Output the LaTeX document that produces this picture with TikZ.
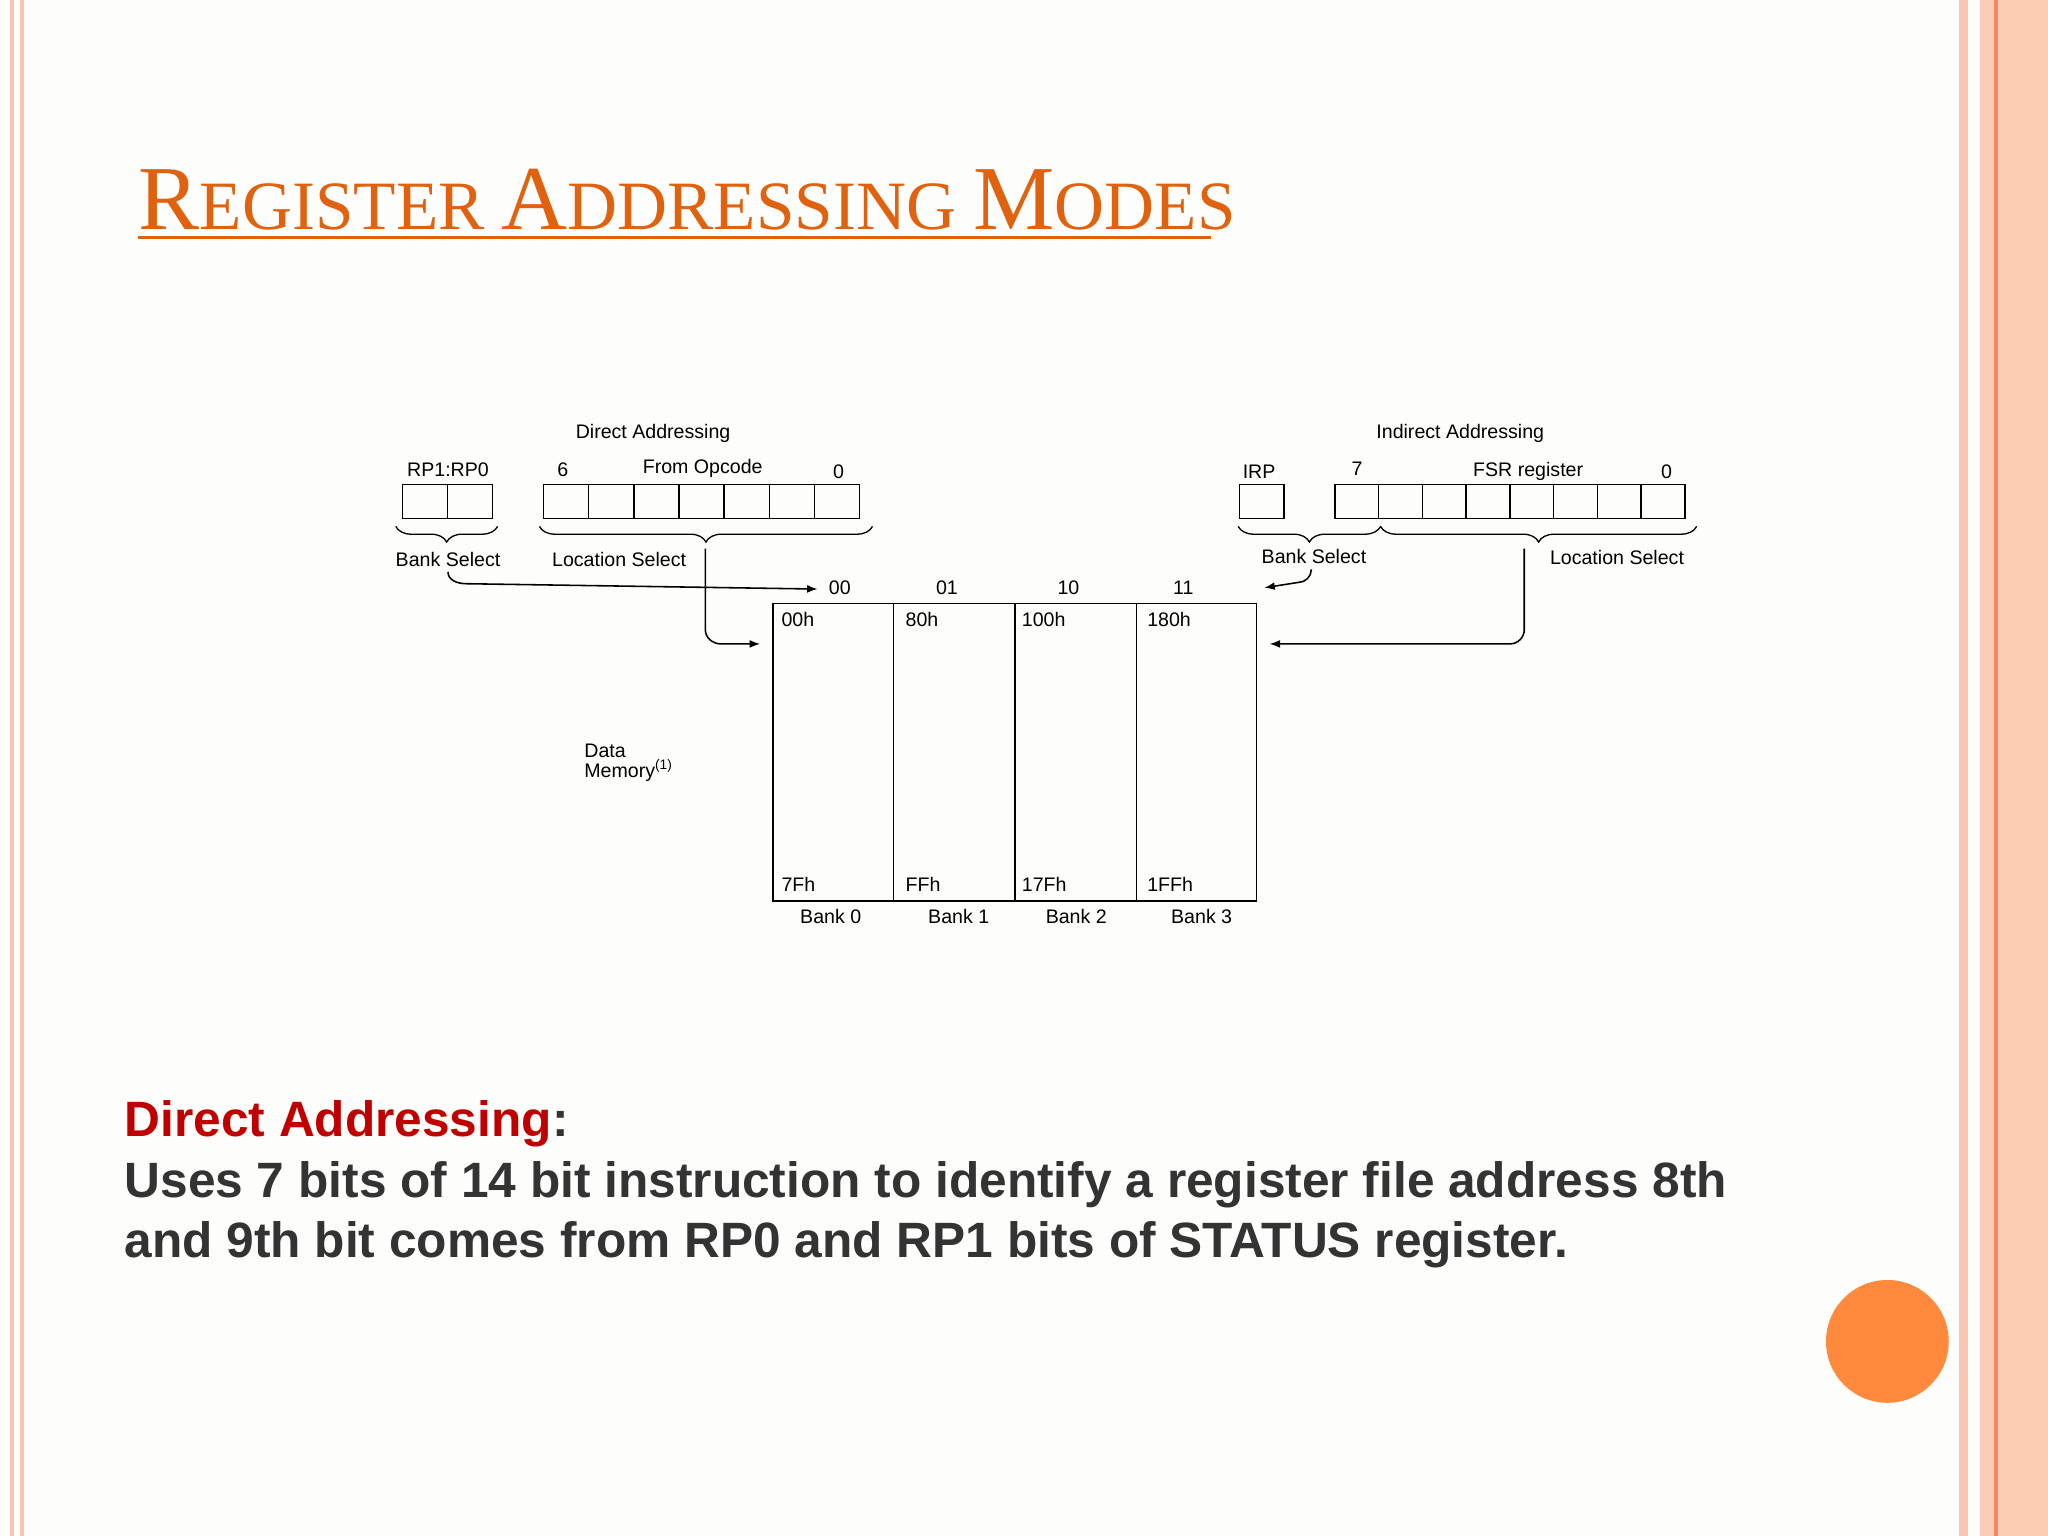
\documentclass[tikz,border=0pt]{standalone}
\usepackage{fontspec}
\setmainfont{Liberation Sans}
\newfontfamily\titlefont{Liberation Serif}
\usetikzlibrary{decorations.pathreplacing,arrows.meta}
\definecolor{bgc}{HTML}{FDFDFB}
\definecolor{pinkl}{HTML}{F9C4B2}
\definecolor{peach}{HTML}{FBCBB4}
\definecolor{orgline}{HTML}{F08A64}
\definecolor{titlec}{HTML}{E0620E}
\definecolor{redc}{HTML}{C00000}
\definecolor{darkc}{HTML}{333333}
\definecolor{circc}{HTML}{FF8A3D}
\begin{document}
\begin{tikzpicture}[x=0.5pt,y=-0.5pt,
  dtext/.style={font=\fontsize{7.5pt}{8pt}\selectfont,inner sep=0pt},
  cellbox/.style={draw,line width=0.6pt},
  brc/.style={decorate,decoration={brace,mirror,amplitude=6,raise=0pt},line width=0.5pt},
  conn/.style={line width=0.6pt,-{Latex[length=4pt,width=3pt]}},
  btext/.style={font=\fontsize{19pt}{23pt}\selectfont\bfseries,color=darkc,anchor=base west,inner sep=0pt}]
\fill[bgc] (0,0) rectangle (1568,1176);
\useasboundingbox (0,0) rectangle (1568,1176);
% borders
\fill[pinkl] (8,0) rectangle (11,1176);
\fill[pinkl] (15,0) rectangle (18,1176);
\fill[pinkl] (1500,0) rectangle (1507,1176);
\fill[peach] (1516,0) rectangle (1568,1176);
\fill[orgline] (1527,0) rectangle (1530,1176);
% title
\node[anchor=base west,inner sep=0pt,text=titlec] (title) at (106,176)
 {\titlefont\fontsize{35pt}{40pt}\selectfont R\fontsize{26.5pt}{30pt}\selectfont EGISTER \fontsize{35pt}{40pt}\selectfont A\fontsize{26.5pt}{30pt}\selectfont DDRESSING \fontsize{35pt}{40pt}\selectfont M\fontsize{26.5pt}{30pt}\selectfont ODES};
\draw[titlec,line width=1.2pt] (106,182) -- (927,182);
% direct registers
\node[dtext] (dirA) at (500,332) {Direct Addressing};
\node[dtext] (rplab) at (343,360) {RP1:RP0};
\foreach \i in {0,1}{\draw[cellbox] (308+34.5*\i,371) rectangle (342.5+34.5*\i,397);}
\coordinate (rpL) at (303,403); \coordinate (rpR) at (381,403);
\node[dtext] (six) at (431,360) {6};
\node[dtext] (fromop) at (538,359) {From Opcode};
\node[dtext] (zeroA) at (642,361) {0};
\foreach \i in {0,...,6}{\draw[cellbox] (416+34.6*\i,371) rectangle (450.6+34.6*\i,397);}
\coordinate (opL) at (413,403); \coordinate (opR) at (668,403);
\draw[brc] (rpL) -- (rpR);
\draw[brc] (opL) -- (opR);
\node[dtext] (bsA) at (343,428) {Bank Select};
\node[dtext] (lsA) at (474,428) {Location Select};
% indirect registers
\node[dtext] (indA) at (1118,332) {Indirect Addressing};
\node[dtext] (irplab) at (964,361) {IRP};
\draw[cellbox] (949,371) rectangle (983,397);
\node[dtext] (seven) at (1039,359) {7};
\node[dtext] (fsr) at (1170,361) {FSR register};
\node[dtext] (zeroB) at (1276,361) {0};
\foreach \i in {0,...,7}{\draw[cellbox] (1022+33.5*\i,371) rectangle (1055.5+33.5*\i,397);}
\coordinate (irL) at (948,403); \coordinate (irR) at (1057,403);
\coordinate (fsL) at (1057,403); \coordinate (fsR) at (1299,403);
\draw[brc] (irL) -- (irR);
\draw[brc] (fsL) -- (fsR);
\node[dtext] (bsB) at (1006,426) {Bank Select};
\node[dtext] (lsB) at (1238,427) {Location Select};
% memory
\draw[cellbox] (592,462) rectangle (962,690);
\foreach \x in {684,777,870}{\draw[line width=0.6pt] (\x,462) -- (\x,690);}
\node[dtext] (c00) at (643,450) {00};
\node[dtext] (c01) at (725,450) {01};
\node[dtext] (c10) at (818,450) {10};
\node[dtext] (c11) at (906,450) {11};
\node[dtext,anchor=west] (t0) at (598,474) {00h};
\node[dtext,anchor=west] (t1) at (693,474) {80h};
\node[dtext,anchor=west] (t2) at (782,474) {100h};
\node[dtext,anchor=west] (t3) at (878,474) {180h};
\node[dtext,anchor=west] (b0) at (598,677) {7Fh};
\node[dtext,anchor=west] (b1) at (693,677) {FFh};
\node[dtext,anchor=west] (b2) at (782,677) {17Fh};
\node[dtext,anchor=west] (b3) at (878,677) {1FFh};
\node[dtext] (k0) at (636,702) {Bank 0};
\node[dtext] (k1) at (734,702) {Bank 1};
\node[dtext] (k2) at (824,702) {Bank 2};
\node[dtext] (k3) at (920,702) {Bank 3};
\node[dtext,anchor=west,align=left,font=\fontsize{7.5pt}{7.5pt}\selectfont] (dm) at (447,584) {Data\\Memory\textsuperscript{(1)}};
% connectors
\coordinate (aA) at (626,451);
\draw[conn] (bsA.south) ++(0,4) to[out=-90,in=180] ++(14,9) -- (aA);
\coordinate (lA) at (540,420); \coordinate (aL) at (582,493);
\draw[conn] (lA) -- (540,482) to[out=-90,in=180] (552,493) -- (aL);
\coordinate (aB) at (968,450);
\draw[conn] (bsB.south) ++(-2,4) to[out=-90,in=0] ++(-10,10) -- (aB);
\coordinate (lB) at (1167,420); \coordinate (aR) at (972,493);
\draw[conn] (lB) -- (1167,482) to[out=-90,in=0] (1156,493) -- (aR);
% text
\node[btext] (l1) at (95,870) {\textcolor{redc}{Direct Addressing}:};
\node[btext] (l2) at (95,917) {Uses 7 bits of 14 bit instruction to identify a register file address 8th};
\node[btext] (l3) at (95,963) {and 9th bit comes from RP0 and RP1 bits of STATUS register.};
\fill[circc] (1445,1027) circle (47);
\end{tikzpicture}
\end{document}
